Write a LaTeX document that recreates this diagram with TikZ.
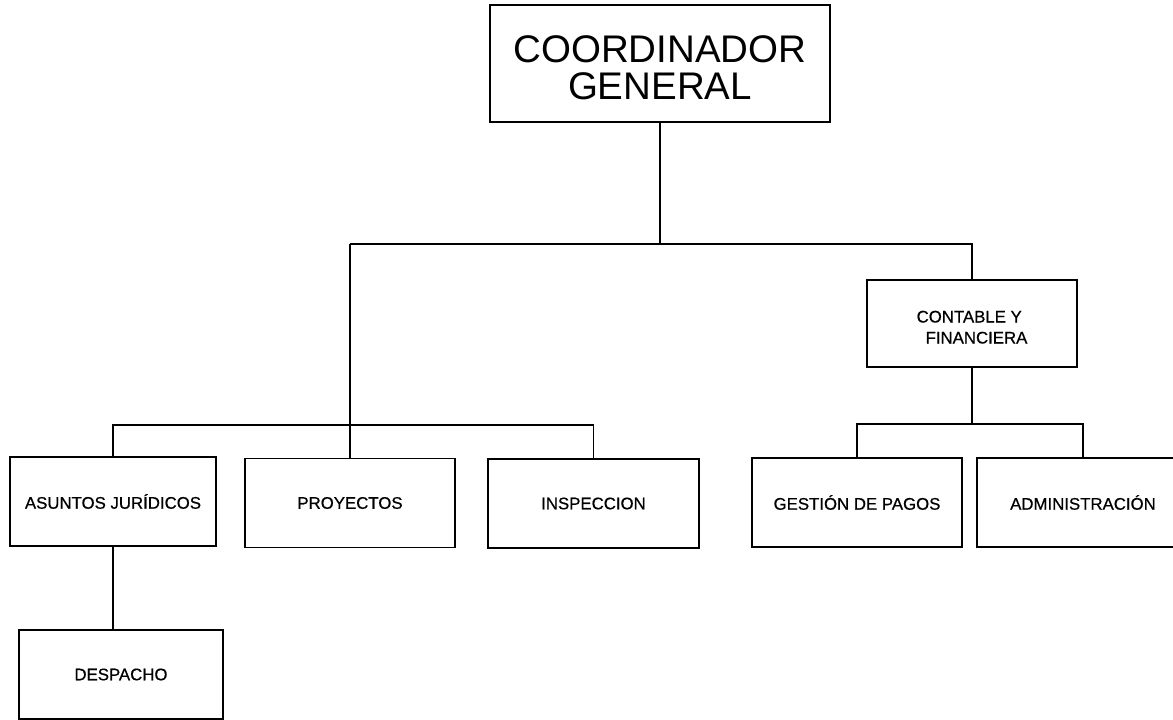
\documentclass[tikz,border=0pt]{standalone}
\usepackage{fontspec}
\setmainfont{Liberation Sans}
\newfontfamily\boxfont[FakeBold=0.6]{Liberation Sans}
\begin{document}
\begin{tikzpicture}[x=1pt,y=-1pt,
  box/.style={draw, line width=1.3pt, minimum width=#1, minimum height=89pt,
    inner sep=0pt, align=center, font=\boxfont\fontsize{16.8}{21}\selectfont},
  conn/.style={line width=1.3pt}]
\useasboundingbox (0,0) rectangle (1173,720);
\clip (0,0) rectangle (1173,720);
\fill[white] (0,0) rectangle (1173,720);
% nodes
\node[box=340pt, minimum height=117pt, font=\fontsize{38.5}{37}\selectfont,
  text height=71pt, text depth=0pt]
  (coord) at (660,63.5) {COORDINADOR\\GENERAL};
\node[box=210pt, minimum height=87pt, align=left, text height=40pt, text depth=0pt]
  (contable) at (972,323.5) {CONTABLE Y\\\hspace*{9pt}FINANCIERA};
\node[box=206pt] (asuntos) at (113,501.5) {ASUNTOS JURÍDICOS};
\node[box=210pt] (proy) at (350,503) {PROYECTOS};
\node[box=211pt] (insp) at (593.5,503.5) {INSPECCION};
\node[box=210pt] (gestion) at (857,502.5) {GESTIÓN DE PAGOS};
\node[box=212pt] (admin) at (1083,502.5) {ADMINISTRACIÓN};
\node[box=204pt] (despacho) at (121,674.5) {DESPACHO};
% connectors
\coordinate (top) at (coord.south |- 0,244);
\coordinate (mid) at (proy.north |- 0,244);
\coordinate (bus2) at (proy.north |- 0,425);
\coordinate (bus3) at (admin.north |- 0,424);
\draw[conn] (coord.south) -- (top);
\draw[conn] (mid) -| (contable.north);
\draw[conn] (mid) -- (proy.north);
\draw[conn] (asuntos.north) |- (bus2) -| (insp.north);
\draw[conn] (asuntos.south) -- (asuntos.south |- despacho.north);
\draw[conn] (contable.south) -- (contable.south |- bus3);
\draw[conn] (gestion.north) |- (bus3) -- (admin.north);
\end{tikzpicture}
\end{document}
